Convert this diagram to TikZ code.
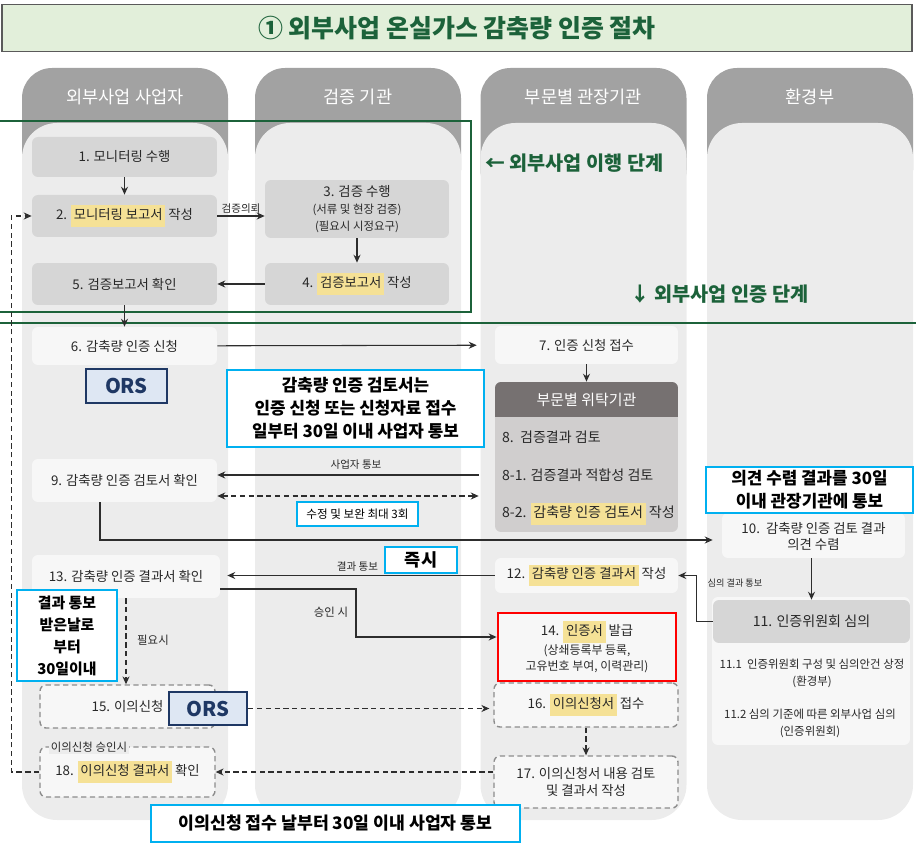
\documentclass[tikz,border=0pt]{standalone}
\usepackage{fontspec}
\setmainfont{Noto Sans CJK KR}
\usepackage{tikz}
\usetikzlibrary{arrows.meta}
\usepackage{xcolor}

\definecolor{colhead}{RGB}{162,162,162}
\definecolor{colbody}{RGB}{236,236,236}
\definecolor{boxgray}{RGB}{214,214,214}
\definecolor{boxlite}{RGB}{247,247,247}
\definecolor{wrapbody}{RGB}{208,206,206}
\definecolor{wraphead}{RGB}{118,113,113}
\definecolor{stagegreen}{RGB}{28,98,58}
\definecolor{titlefill}{RGB}{226,239,218}
\definecolor{titleline}{RGB}{90,90,90}
\definecolor{notecyan}{RGB}{0,176,240}
\definecolor{orsnavy}{RGB}{31,56,100}
\definecolor{orsfill}{RGB}{222,231,243}
\definecolor{hlyel}{RGB}{245,225,150}
\definecolor{txt}{RGB}{40,40,40}
\definecolor{dashgray}{RGB}{140,140,140}
\definecolor{arrowc}{RGB}{45,45,45}

\newcommand{\fsz}[2]{\fontsize{#1}{#2}\selectfont}
\newcommand{\hlt}[1]{{\setlength{\fboxsep}{1.5pt}\colorbox{hlyel}{\strut #1}}}

\begin{document}
\begin{tikzpicture}[x=0.02cm,y=-0.02cm,
    >={Stealth[length=4.5pt,width=4pt]},
    box/.style={rounded corners=0.12cm,inner sep=1pt,align=center,
                text=txt,font=\fsz{7.6}{9.5}},
    graybox/.style={box,fill=boxgray},
    litebox/.style={box,fill=boxlite},
    dashbox/.style={box,fill=boxlite,draw=dashgray,line width=0.8pt,
                    dash pattern=on 3pt off 2pt},
    note/.style={draw=notecyan,line width=1.2pt,fill=white,align=center,
                 inner sep=1pt,font=\fsz{9.6}{13}\bfseries},
    ors/.style={draw=orsnavy,line width=1.4pt,fill=orsfill,text=orsnavy,
                font=\fsz{11.5}{13}\bfseries},
    colhd/.style={text=white,font=\fsz{10}{11}},
    stage/.style={text=stagegreen,font=\fsz{11.2}{12}\bfseries},
    lbl/.style={text=txt,font=\fsz{6}{7},inner sep=1pt},
    flow/.style={->,draw=arrowc,line width=0.6pt},
    dflow/.style={flow,dash pattern=on 3pt off 2pt}
  ]
  \useasboundingbox (0,0) rectangle (916,847);

  \node[draw=titleline,line width=1pt,fill=titlefill,minimum width=18.2cm,
        minimum height=0.94cm,text=stagegreen,font=\fsz{14.2}{16}\bfseries]
        (title) at (457,28) {① 외부사업 온실가스 감축량 인증 절차};

  \foreach \cx/\txt [count=\i] in {125/외부사업 사업자, 358/검증 기관,
                                   583.5/부문별 관장기관, 810/환경부}
  {
    \fill[colhead,rounded corners=0.6cm] (\cx-103,68) rectangle (\cx+103,200);
    \fill[colbody,rounded corners=0.7cm] (\cx-103,123) rectangle (\cx+103,820);
    \node[colhd] (h\i) at (\cx,97) {\txt};
  }

  \draw[stagegreen,line width=1.2pt] (-5,121) rectangle (471,312);
  \draw[stagegreen,line width=1.2pt] (-5,323) -- (921,323);
  \node[stage,anchor=west] (st1) at (479,163) {← 외부사업 이행 단계};
  \node[stage,anchor=west] (st2) at (624,294) {↓ 외부사업 인증 단계};

  \node[graybox,minimum width=3.7cm,minimum height=0.8cm] (n1) at (124.5,157) {1. 모니터링 수행};
  \node[graybox,minimum width=3.7cm,minimum height=0.84cm] (n2) at (124.5,216) {2. \hlt{모니터링 보고서} 작성};
  \node[graybox,minimum width=3.68cm,minimum height=1.16cm] (n3) at (357,209)
       {3. 검증 수행\\{\fsz{6.5}{8.5}(서류 및 현장 검증)}\\{\fsz{6.5}{8.5}(필요시 시정요구)}};
  \node[graybox,minimum width=3.68cm,minimum height=0.84cm] (n4) at (357,284) {4. \hlt{검증보고서} 작성};
  \node[graybox,minimum width=3.7cm,minimum height=0.84cm] (n5) at (124.5,284) {5. 검증보고서 확인};
  \node[litebox,minimum width=3.7cm,minimum height=0.76cm] (n6) at (124.5,346) {6. 감축량 인증 신청};
  \node[litebox,minimum width=3.66cm,minimum height=0.76cm] (n7) at (586.5,345) {7. 인증 신청 접수};

  \node[box,fill=wrapbody,minimum width=3.66cm,minimum height=3cm] (n8box) at (586.5,457) {};
  \fill[wraphead] (495,400) rectangle (678,417);
  \node[box,fill=wraphead,text=white,font=\fsz{8.5}{10},minimum width=3.66cm,
        minimum height=0.7cm] (n8hd) at (586.5,399.5) {부문별 위탁기관};
  \node[box,font=\fsz{8}{10},anchor=west] (n8a) at (500,437) {8.\ \ 검증결과 검토};
  \node[box,font=\fsz{8}{10},anchor=west] (n8b) at (500,475) {8-1. 검증결과 적합성 검토};
  \node[box,font=\fsz{8}{10},anchor=west] (n8c) at (500,514) {8-2. \hlt{감축량 인증 검토서} 작성};

  \node[ors,minimum width=1.62cm,minimum height=0.68cm] (ors1) at (126.5,386) {ORS};
  \node[note,minimum width=5.14cm,minimum height=1.54cm] (note1) at (355.5,408.5)
       {감축량 인증 검토서는\\인증 신청 또는 신청자료 접수\\일부터 30일 이내 사업자 통보};
  \node[litebox,minimum width=3.7cm,minimum height=0.86cm] (n9) at (124.5,480.5) {9. 감축량 인증 검토서 확인};
  \node[note,font=\fsz{6.6}{8},line width=1pt,minimum width=2.42cm,minimum height=0.48cm]
       (note3) at (357.5,514) {수정 및 보완 최대 3회};

  \node[litebox,minimum width=3.66cm,minimum height=0.9cm] (n10) at (813.5,535.5)
       {\\[-2pt]10.\ \ 감축량 인증 검토 결과\\의견 수렴};
  \node[note,minimum width=4.14cm,minimum height=0.92cm] (note2) at (809.5,490)
       {의견 수렴 결과를 30일\\이내 관장기관에 통보};
  \node[litebox,minimum width=3.96cm,minimum height=2.96cm] (n11area) at (811,671) {};
  \node[graybox,font=\fsz{8}{10},minimum width=3.94cm,minimum height=0.86cm] (n11) at (811.5,621.5) {11. 인증위원회 심의};
  \node[box,font=\fsz{6.5}{9.5}] (n111) at (812,673.5) {11.1\ \ 인증위원회 구성 및 심의안건 상정\\(환경부)};
  \node[box,font=\fsz{6.5}{9.5}] (n112) at (810,723.5) {11.2 심의 기준에 따른 외부사업 심의\\(인증위원회)};

  \node[litebox,minimum width=3.66cm,minimum height=0.7cm] (n12) at (586.5,575.5) {12. \hlt{감축량 인증 결과서} 작성};
  \node[litebox,minimum width=3.76cm,minimum height=0.86cm] (n13) at (126,576.5) {13. 감축량 인증 결과서 확인};
  \node[note,font=\fsz{10}{12}\bfseries,minimum width=1.44cm,minimum height=0.52cm] (note4) at (421,560) {즉시};
  \node[box,fill=boxlite,draw=red,line width=1.6pt,rounded corners=0pt,
        minimum width=3.56cm,minimum height=1.36cm] (n14) at (587,647)
       {14. \hlt{인증서} 발급\\{\fsz{6.8}{8.5}(상쇄등록부 등록,}\\{\fsz{6.8}{8.5}고유번호 부여, 이력관리)}};
  \node[note,font=\fsz{8.5}{12.5}\bfseries,minimum width=2cm,minimum height=1.82cm] (note5) at (67,635.5)
       {결과 통보\\받은날로\\부터\\30일이내};

  \node[dashbox,minimum width=3.5cm,minimum height=0.86cm] (n15) at (127.5,706.5) {15. 이의신청};
  \node[ors,minimum width=1.56cm,minimum height=0.66cm] (ors2) at (208,708.5) {ORS};
  \node[dashbox,minimum width=3.68cm,minimum height=0.88cm] (n16) at (586,705) {16. \hlt{이의신청서} 접수};
  \node[dashbox,minimum width=3.68cm,minimum height=1.04cm] (n17) at (586,782) {17. 이의신청서 내용 검토\\및 결과서 작성};
  \node[dashbox,minimum width=3.5cm,minimum height=1cm] (n18) at (127.5,772) {18. \hlt{이의신청 결과서} 확인};
  \node[lbl,font=\fsz{6.5}{8},fill=colbody] (l18) at (89,747) {이의신청 승인시};
  \node[note,font=\fsz{9.8}{13}\bfseries,minimum width=7.38cm,minimum height=0.74cm] (note6) at (335.5,823.5)
       {이의신청 접수 날부터 30일 이내 사업자 통보};

  \draw[flow] (n1) -- (n2);
  \draw[flow] (n2.east) -- node[lbl,above] (l23) {검증의뢰} (n2.east -| n3.west);
  \draw[flow] (n3) -- (n4);
  \draw[flow] (n4) -- (n5);
  \draw[flow] (n5) -- (n6);
  \draw[flow,shorten >=0.36cm] (n6) -- (n7);
  \draw[flow] (n7) -- (n8hd);
  \draw[flow,shorten <=0.32cm] (n8b -| n8box.west) -- node[lbl,above=2pt] (l89) {사업자 통보} (n8b -| n9.east);
  \coordinate (dd) at (0,496);
  \draw[dflow,<->,shorten >=0.32cm] (n9.east |- dd) -- (n8box.west |- dd);
  \coordinate (c9) at (100,540);
  \draw[flow,shorten >=0.18cm] (n9.south -| c9) -- (c9) -- (c9 -| n10.west);
  \draw[flow] (n11.north |- n10.south) -- (n11.north);
  \draw[flow] (n11.west) -- ++(-16,0) |- (n12.east);
  \node[lbl,font=\fsz{5.2}{6}] (l1112) at (735,583) {심의 결과 통보};
  \draw[flow,shorten >=0.14cm] (n12.west) -- node[lbl,above=1pt,pos=0.5] (l1213) {결과 통보} (n12.west -| n13.east);
  \coordinate (c13) at (356,637);
  \draw[flow] ([yshift=-0.25cm]n13.east) -| (c13) -- (c13 -| n14.west);
  \node[lbl,font=\fsz{6.5}{8}] (l1314) at (331,612) {승인 시};
  \draw[dflow] (n13.south) -- (n13.south |- n15.north);
  \node[lbl,font=\fsz{6.5}{8}] (l1315) at (153,640) {필요시};
  \draw[dflow,shorten >=0.08cm] (ors2.east) -- (ors2.east -| n16.west);
  \draw[dflow] (n16) -- (n17);
  \draw[dflow] (n18.east -| n17.west) -- (n18.east);
  \draw[dflow] (n18.west) -- ++(-28,0) |- (n2.west);
\end{tikzpicture}
\end{document}
